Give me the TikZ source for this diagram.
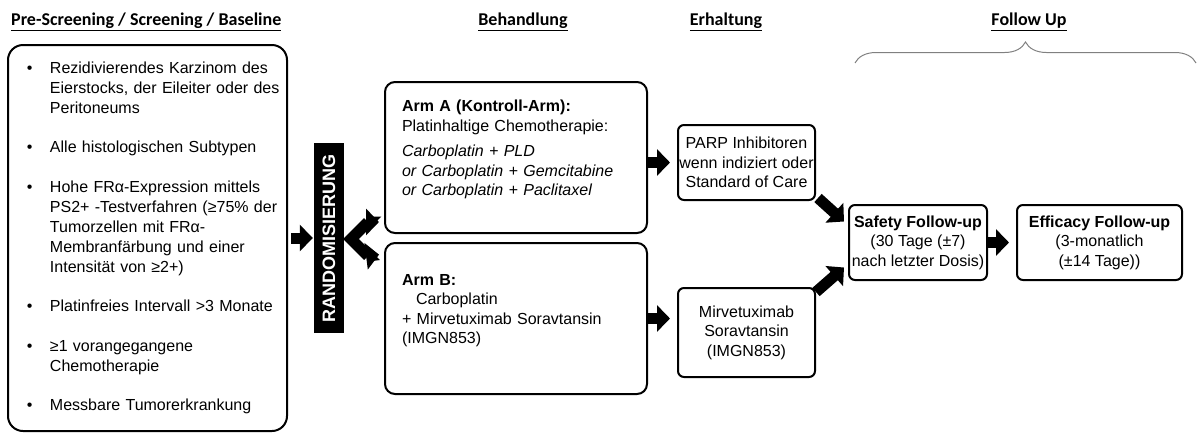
\documentclass[tikz,border=0pt]{standalone}
\usepackage{fontspec}
\setmainfont{Liberation Sans}
\newfontfamily\hdfont{Carlito}
\usetikzlibrary{arrows.meta,decorations.pathreplacing}

\newcommand{\bul}{\hspace*{19pt}\makebox[23pt][l]{\textbullet}}
\newcommand{\ind}{\hspace*{42pt}}

\begin{document}
\begin{tikzpicture}[x=1pt,y=-1pt,
  font=\fontsize{16}{19.5}\selectfont,
  fh/.tip={Triangle[length=13pt,width=26pt]},
  hd/.style={inner sep=0pt,font=\hdfont\bfseries\fontsize{18}{20}\selectfont},
  box/.style={draw,line width=2pt,rounded corners=6pt,inner sep=0pt,align=center},
  lbox/.style={draw,line width=2pt,rounded corners=15pt,minimum width=279pt,
               minimum height=386pt,text width=279pt,align=left,inner sep=0pt,
               font=\fontsize{16}{20}\selectfont},
  arm/.style={draw,line width=2pt,rounded corners=10pt,minimum width=262pt,
              minimum height=151pt,text width=228pt,align=left,inner sep=0pt},
  rnd/.style={fill=black,text=white,inner sep=0pt,minimum width=30pt,
              minimum height=190pt,font=\bfseries\fontsize{18}{20}\selectfont},
  fat/.style={line width=11pt,-fh}
]
\useasboundingbox (0,0) rectangle (1197,432);

% phase headers
\node[hd,anchor=west] (hpre) at (11,22) {\underline{Pre-Screening / Screening / Baseline}};
\node[hd] (hbeh) at (523,22) {\underline{Behandlung}};
\node[hd] (herh) at (726,22) {\underline{Erhaltung}};
\node[hd] (hfol) at (1029,22) {\underline{Follow Up}};
\coordinate (brl) at (855,63);
\coordinate (brr) at (1196,63);
\draw[gray,line width=1pt,decorate,decoration={brace,amplitude=21pt}] (brl) -- (brr);

% inclusion criteria
\node[lbox] (crit) at (147.5,238) {%
\bul Rezidivierendes Karzinom des\\
\ind Eierstocks, der Eileiter oder des\\
\ind Peritoneums\\[19.5pt]
\bul Alle histologischen Subtypen\\[19.5pt]
\bul Hohe FRα-Expression mittels\\
\ind PS2+ -Testverfahren (≥75\% der\\
\ind Tumorzellen mit FRα-\\
\ind Membranfärbung und einer\\
\ind Intensität von ≥2+)\\[19.5pt]
\bul Platinfreies Intervall >3 Monate\\[19.5pt]
\bul ≥1 vorangegangene\\
\ind Chemotherapie\\[19.5pt]
\bul Messbare Tumorerkrankung};

\node[rnd] (rand) at (329,238) {\rotatebox{90}{RANDOMISIERUNG}};

% treatment arms
\node[arm] (armA) at (516,157.5) {\textbf{Arm A (Kontroll-Arm):}\\
Platinhaltige Chemotherapie:\\[6pt]
\textit{Carboplatin + PLD}\\
\textit{or Carboplatin + Gemcitabine}\\
\textit{or Carboplatin + Paclitaxel}\\[0pt]\mbox{}};
\node[arm] (armB) at (516,318.5) {\textbf{Arm B:}\\
\hspace*{14pt}Carboplatin\\
+ Mirvetuximab Soravtansin\\
(IMGN853)\\[0pt]\mbox{}};

% maintenance
\node[box,minimum width=137pt,minimum height=75pt] (parp) at (746.5,162.5)
  {PARP Inhibitoren\\wenn indiziert oder\\Standard of Care};
\node[box,minimum width=137pt,minimum height=89pt] (mirv) at (746.5,332.5)
  {Mirvetuximab\\Soravtansin\\(IMGN853)};

% follow up
\node[box,minimum width=138pt,minimum height=75pt] (safe) at (918,242.5)
  {\textbf{Safety Follow-up}\\(30 Tage (±7)\\nach letzter Dosis)};
\node[box,minimum width=165pt,minimum height=75pt] (eff) at (1099.5,242.5)
  {\textbf{Efficacy Follow-up}\\(3-monatlich\\(±14 Tage))};

\draw[fat,shorten <=3pt,shorten >=1pt] (crit.east) -- (rand.west);
\draw[line width=11pt,line join=miter,fh-fh,shorten <=5pt,shorten >=5pt]
  ([yshift=12pt]armA.south west) -- ++(-16,0) -- ++(-17,17) -- ++(17,17)
  -- ([yshift=-12pt]armB.north west);
\draw[fat,shorten >=7pt] (parp.west -| armA.east) -- (parp.west);
\draw[fat,shorten >=7pt] (armB.east) -- (armB.east -| mirv.west);
\draw[fat] ([shift={(2,-3)}]parp.south east) -- ([shift={(-4,-21)}]safe.west);
\draw[fat] ([shift={(0,5)}]mirv.north east) -- ([shift={(-4,25)}]safe.west);
\draw[fat,shorten >=7pt] (safe.east) -- (eff.west);
\end{tikzpicture}
\end{document}
